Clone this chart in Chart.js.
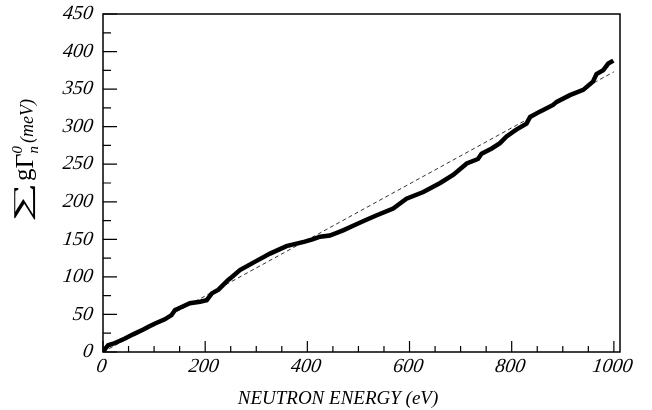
<!DOCTYPE html>
<html>

<head>
  <meta charset="UTF-8">
  <script src="https://cdn.jsdelivr.net/npm/chart.js@4.4.0/dist/chart.umd.min.js"></script>
  <style>
    body { margin: 0; background: #fff; }
    #wrap { width: 652px; height: 410px; }
  </style>
</head>

<body>
  <div id="wrap"><canvas id="sumChart"></canvas></div>
  <script>
    // cumulative reduced neutron width vs energy
    const energy = [0, 5, 10, 20, 30, 43, 59, 79, 90, 102, 121, 134, 141, 154, 170, 190, 203, 213, 226, 245,
      249, 268, 297, 327, 359, 395, 410, 425, 444, 470, 496, 519, 536, 568, 594, 627, 660, 686, 705, 712,
      734, 741, 761, 777, 790, 809, 829, 836, 855, 881, 888, 914, 940, 959, 966, 979, 989, 999]
    const sumWidth = [0, 5, 9, 11, 14, 18, 23.5, 30, 34, 38, 43.5, 49, 56, 60, 65, 67, 69, 78, 83, 96,
      98, 109, 120, 131, 141, 147, 150, 153.5, 155, 162, 170, 177, 182, 191, 204, 213, 225, 236, 247, 251,
      257, 264, 271, 278, 287, 296, 304, 313, 320, 329, 333, 342, 349, 360, 370, 375, 384, 388]

    // straight-line average
    const fitX = [0, 1000]
    const fitY = [0, 373]

    const xTicks = [0, 200, 400, 600, 800, 1000]
    const yTicks = [0, 50, 100, 150, 200, 250, 300, 350, 400, 450]
    const xMinor = [50, 100, 150, 250, 300, 350, 450, 500, 550, 650, 700, 750, 850, 900, 950]
    const yMinor = [25, 75, 125, 175, 225, 275, 325, 375, 425]

    const serif = "Liberation Serif"

    const framePlugin = {
      id: "frame",
      afterDraw(chart) {
        const ctx = chart.ctx
        const a = chart.chartArea
        const xs = chart.scales.x
        const ys = chart.scales.y
        ctx.save()
        ctx.strokeStyle = "#000"
        ctx.lineWidth = 1.5
        ctx.strokeRect(a.left, a.top, a.right - a.left, a.bottom - a.top)

        ctx.lineWidth = 1.2
        ctx.beginPath()
        for (const v of xTicks) {
          const px = xs.getPixelForValue(v)
          ctx.moveTo(px, a.bottom); ctx.lineTo(px, a.bottom - 11)
        }
        for (const v of xMinor) {
          const px = xs.getPixelForValue(v)
          ctx.moveTo(px, a.bottom); ctx.lineTo(px, a.bottom - 6)
        }
        for (const v of yTicks) {
          const py = ys.getPixelForValue(v)
          ctx.moveTo(a.left, py); ctx.lineTo(a.left + 14, py)
        }
        for (const v of yMinor) {
          const py = ys.getPixelForValue(v)
          ctx.moveTo(a.left, py); ctx.lineTo(a.left + 8, py)
        }
        ctx.stroke()

        // tick labels, slanted a little more than the italic face
        ctx.fillStyle = "#000"
        ctx.font = "italic 20px " + serif
        const slanted = (t, x, y) => {
          ctx.save()
          ctx.translate(x, y)
          ctx.transform(1, 0, -0.14, 1, 0, 0)
          ctx.fillText(t, 0, 0)
          ctx.restore()
        }
        ctx.textAlign = "right"
        ctx.textBaseline = "middle"
        for (const t of ys.ticks) {
          slanted(String(t.value), a.left - 10, ys.getPixelForValue(t.value))
        }
        ctx.textAlign = "center"
        ctx.textBaseline = "top"
        for (const t of xs.ticks) {
          slanted(String(t.value), xs.getPixelForValue(t.value), a.bottom + 5)
        }

        // x title
        ctx.font = "italic 19px " + serif
        ctx.textAlign = "center"
        ctx.textBaseline = "alphabetic"
        ctx.fillText("NEUTRON ENERGY (eV)", 338, 404)

        // y title, rotated
        ctx.translate(35, 222)
        ctx.rotate(-Math.PI / 2)
        ctx.textAlign = "left"
        // wide, flat summation sign
        ctx.save()
        ctx.font = "34px " + serif
        ctx.translate(0, -5)
        ctx.scale(1.65, 0.7)
        ctx.fillText("\u2211", 0, 0)
        const sw = ctx.measureText("\u2211").width * 1.65
        ctx.restore()
        let x = sw + 1
        const put = (t, font, dy) => {
          ctx.font = font
          ctx.fillText(t, x, dy)
          x += ctx.measureText(t).width
        }
        put("g", "25px " + serif, -4)
        put("\u0393", "26px " + serif, -2)
        const x0 = x
        put("0", "italic 15px " + serif, -13)
        x = x0
        put("n", "italic 15px " + serif, 3)
        x += 3
        put("(meV)", "italic 18px " + serif, -2)
        ctx.restore()
      }
    }

    const ctx = document.getElementById("sumChart").getContext("2d")

    const chart = new Chart(ctx, {
      type: "line",
      data: {
        datasets: [
          {
            data: energy.map((e, i) => ({ x: e, y: sumWidth[i] })),
            borderColor: "#000",
            backgroundColor: "#000",
            borderWidth: 4.5,
            pointRadius: 0,
            tension: 0
          },
          {
            data: fitX.map((e, i) => ({ x: e, y: fitY[i] })),
            borderColor: "#333",
            borderWidth: 1,
            borderDash: [4, 3],
            pointRadius: 0
          }
        ]
      },
      options: {
        responsive: true,
        maintainAspectRatio: false,
        animation: false,
        layout: { padding: { left: 0, top: 14, right: 32, bottom: 0 } },
        plugins: { legend: { display: false }, tooltip: { enabled: false } },
        scales: {
          x: {
            type: "linear",
            min: 0,
            max: 1012,
            grid: { display: false, drawTicks: false },
            border: { display: false },
            afterBuildTicks: (s) => { s.ticks = xTicks.map(v => ({ value: v })) },
            afterFit: (s) => { s.height = 58 },
            ticks: { display: false }
          },
          y: {
            min: 0,
            max: 450,
            grid: { display: false, drawTicks: false },
            border: { display: false },
            afterBuildTicks: (s) => { s.ticks = yTicks.map(v => ({ value: v })) },
            afterFit: (s) => { s.width = 103 },
            ticks: { display: false }
          }
        }
      },
      plugins: [framePlugin]
    })
  </script>
</body>
</html>
